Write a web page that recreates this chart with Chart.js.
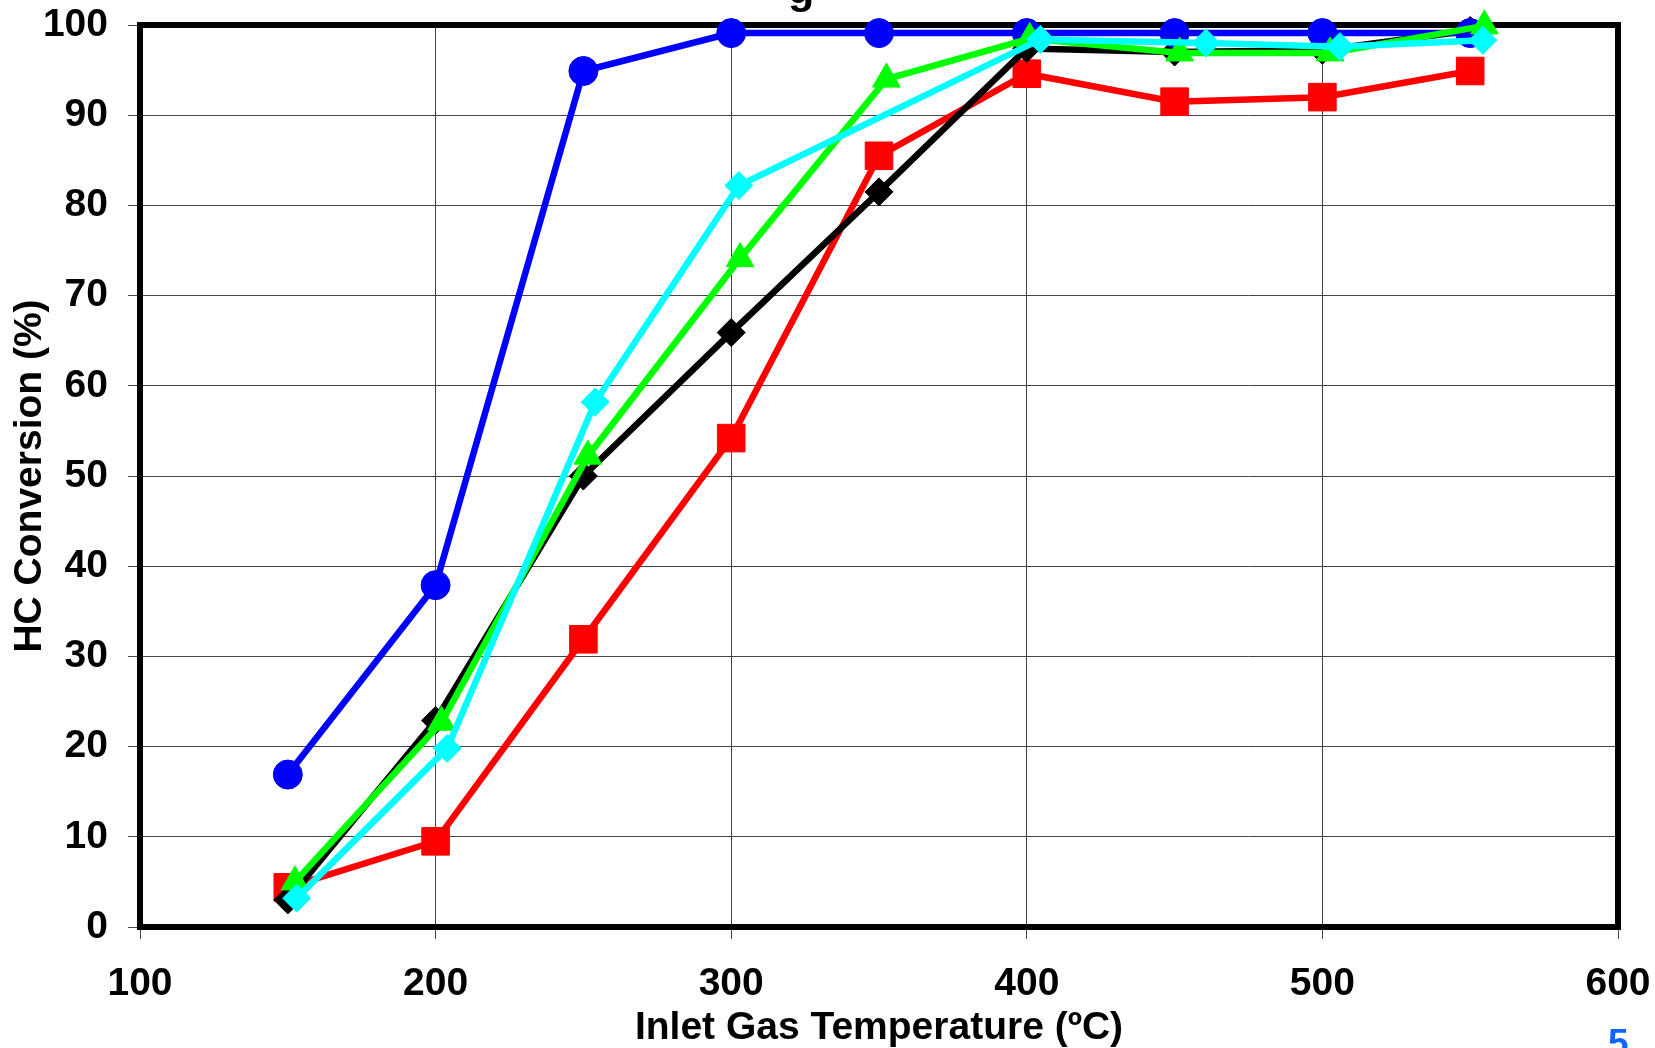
<!DOCTYPE html>
<html>
<head>
<meta charset="utf-8">
<title>HC Conversion</title>
<script src="https://cdn.jsdelivr.net/npm/chart.js@4.4.1/dist/chart.umd.min.js"></script>
<style>
  html, body { margin: 0; padding: 0; background: #fff; overflow: hidden; }
  #wrap { position: relative; width: 1655px; height: 1048px; }
  #hc { position: absolute; left: 0; top: 0; }
  #cuttitle {
    position: absolute; left: 788px; top: -33px;
    font: bold 43px "Liberation Sans", Arial, sans-serif; line-height: 43px; color: #000;
  }
  #pagenum {
    position: absolute; left: 1608px; top: 1024px;
    font: bold 37px "Liberation Sans", Arial, sans-serif; line-height: 37px; color: #0a66ff;
  }
</style>
</head>
<body>
<div id="wrap">
  <canvas id="hc" width="1655" height="1048"></canvas>
  <div id="cuttitle">g</div>
  <div id="pagenum">5</div>
</div>
<script>
// inlet temperatures (ºC) and HC conversion (%)
const tempSet = [150, 200, 250, 300, 350, 400, 450, 500, 550];
const convBlue = [16.9, 37.9, 94.9, 99.1, 99.1, 99.1, 99.1, 99.1, 99.1];
const convRed = [4.4, 9.5, 31.9, 54.2, 85.5, 94.6, 91.5, 92.0, 94.9];
const convBlack = [3.0, 22.9, 50.0, 65.9, 81.5, 97.4, 97.0, 97.2, 99.4];

const tempGreen = [152.4, 202, 251.5, 303, 352.5, 401, 451.7, 502.6, 554.8];
const convGreen = [5.0, 22.7, 52.2, 74.1, 94.0, 98.5, 96.9, 96.9, 99.9];

const tempCyan = [153, 203.9, 254, 302.6, 404.6, 460.6, 505.9, 554.3];
const convCyan = [3.2, 19.8, 58.2, 82.2, 98.4, 98.0, 97.6, 98.3];

const xTicks = [100, 200, 300, 400, 500, 600];
const yTicks = [0, 10, 20, 30, 40, 50, 60, 70, 80, 90, 100];

const tickFont = { family: "'Liberation Sans', Arial, sans-serif", size: 39, weight: "bold" };
const titleFont = { family: "'Liberation Sans', Arial, sans-serif", size: 39, weight: "bold" };

function pairUp(xs, ys) {
  return xs.map((x, i) => ({ x: x, y: ys[i] }));
}

function makeSeries(label, xs, ys, color, style, radius, order) {
  return {
    label: label,
    data: pairUp(xs, ys),
    showLine: true,
    borderColor: color,
    backgroundColor: color,
    borderWidth: 6.5,
    pointStyle: style,
    pointRadius: radius,
    pointBorderWidth: 1,
    pointBorderColor: color,
    pointBackgroundColor: color,
    clip: false,
    order: order
  };
}

// thick frame round the plot area, under the markers
const plotFrame = {
  id: "plotFrame",
  beforeDatasetsDraw(chart) {
    const { ctx, chartArea } = chart;
    ctx.save();
    ctx.strokeStyle = "#000";
    ctx.lineWidth = 6;
    ctx.strokeRect(chartArea.left, chartArea.top, chartArea.right - chartArea.left, chartArea.bottom - chartArea.top);
    ctx.restore();
  }
};

function renderChart() {
  const ctx = document.getElementById("hc").getContext("2d");

  new Chart(ctx, {
    type: "scatter",
    data: {
      datasets: [
        makeSeries("Blue", tempSet, convBlue, "#0000ff", "circle", 14.5, 3),
        makeSeries("Red", tempSet, convRed, "#ff0000", "rect", 19.5, 5),
        makeSeries("Black", tempSet, convBlack, "#000000", "rectRot", 14, 4),
        makeSeries("Green", tempGreen, convGreen, "#00ff00", "triangle", 16, 2),
        makeSeries("Cyan", tempCyan, convCyan, "#00ffff", "rectRot", 14, 1)
      ]
    },
    options: {
      responsive: false,
      animation: false,
      events: [],
      layout: { padding: { left: 0, top: 25, right: 37, bottom: 0 } },
      plugins: {
        legend: { display: false },
        tooltip: { enabled: false }
      },
      scales: {
        x: {
          type: "linear",
          min: xTicks[0],
          max: xTicks[xTicks.length - 1],
          afterBuildTicks: (scale) => { scale.ticks = xTicks.map(v => ({ value: v })); },
          afterFit: (scale) => {
            scale.height = 121;
            scale.paddingLeft = 0;
            scale.paddingRight = 0;
          },
          grid: { color: "#444", lineWidth: 1, tickLength: 12, drawTicks: true },
          border: { display: false },
          ticks: { color: "#000", font: tickFont, padding: 22, maxRotation: 0 },
          title: {
            display: true,
            text: "Inlet Gas Temperature (ºC)",
            color: "#000",
            font: titleFont,
            padding: { top: 0, bottom: -4 }
          }
        },
        y: {
          type: "linear",
          min: yTicks[0],
          max: yTicks[yTicks.length - 1],
          afterBuildTicks: (scale) => { scale.ticks = yTicks.map(v => ({ value: v })); },
          afterFit: (scale) => {
            scale.width = 140;
            scale.paddingTop = 0;
            scale.paddingBottom = 0;
          },
          grid: { color: "#444", lineWidth: 1, tickLength: 12, drawTicks: true },
          border: { display: false },
          ticks: { color: "#000", font: tickFont, padding: 20 },
          title: {
            display: true,
            text: "HC Conversion (%)",
            color: "#000",
            font: titleFont,
            padding: { top: 7, bottom: 0 }
          }
        }
      }
    },
    plugins: [plotFrame]
  });
}

renderChart();
</script>
</body>
</html>
